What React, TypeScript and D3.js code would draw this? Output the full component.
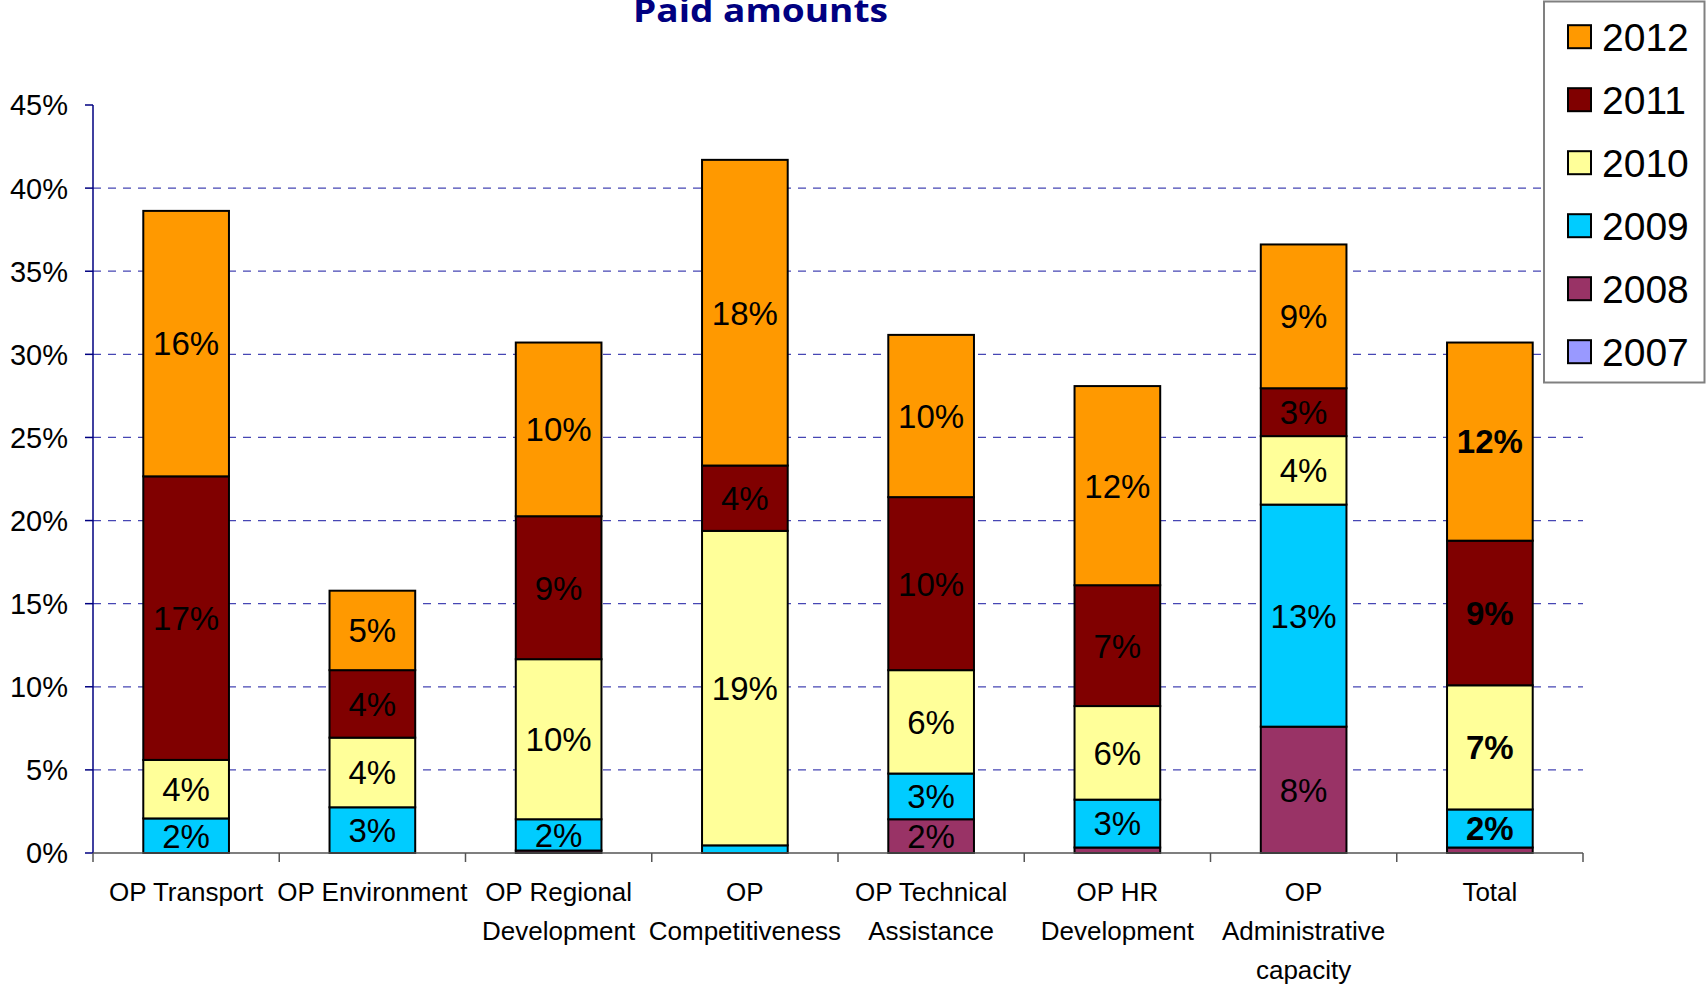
import React from "react";
import * as d3 from "d3";

const categories = [
  "OP Transport",
  "OP Environment",
  "OP Regional Development",
  "OP Competitiveness",
  "OP Technical Assistance",
  "OP HR Development",
  "OP Administrative capacity",
  "Total",
];
const categoryLines = [
  ["OP Transport"],
  ["OP Environment"],
  ["OP Regional", "Development"],
  ["OP", "Competitiveness"],
  ["OP Technical", "Assistance"],
  ["OP HR", "Development"],
  ["OP", "Administrative", "capacity"],
  ["Total"],
];
const years = ["2007", "2008", "2009", "2010", "2011", "2012"];
const v2007 = [0, 0, 0, 0, 0, 0, 0, 0];
const v2008 = [0, 0, 0.15, 0, 2.03, 0.33, 7.6, 0.33];
const v2009 = [2.08, 2.75, 1.88, 0.46, 2.75, 2.88, 13.36, 2.29];
const v2010 = [3.52, 4.19, 9.63, 18.92, 6.22, 5.63, 4.12, 7.47];
const v2011 = [17.06, 4.06, 8.6, 3.93, 10.41, 7.27, 2.88, 8.7];
const v2012 = [15.97, 4.78, 10.45, 18.39, 9.76, 11.98, 8.65, 11.92];
const yTicks = [0, 5, 10, 15, 20, 25, 30, 35, 40, 45];
const colors: Record<string, string> = {
  "2007": "#9999FF",
  "2008": "#993366",
  "2009": "#00CCFF",
  "2010": "#FFFF99",
  "2011": "#800000",
  "2012": "#FF9900",
};

const W = 1706;
const H = 989;
const X0 = 93;
const X1 = 1583;
const Y0 = 853;
const Y45 = 105;

export default function App() {
  const seriesValues: Record<string, number[]> = {
    "2007": v2007,
    "2008": v2008,
    "2009": v2009,
    "2010": v2010,
    "2011": v2011,
    "2012": v2012,
  };
  const table = categories.map((c, i) => {
    const row: any = { cat: c };
    years.forEach((y) => (row[y] = seriesValues[y][i]));
    return row;
  });
  const stack = d3.stack<any>().keys(years)(table);

  const x = d3.scaleBand<string>().domain(categories).range([X0, X1]).paddingInner(0).paddingOuter(0);
  const y = d3.scaleLinear().domain([0, 45]).range([Y0, Y45]);
  const bw = x.bandwidth() * 0.46;
  const font = "'Liberation Sans', Arial, sans-serif";

  return (
    <svg
      width={W}
      height={H}
      style={{ position: "absolute", left: 0, top: 0, background: "#fff" }}
      fontFamily={font}
    >
      <rect x={0} y={0} width={W} height={H} fill="#fff" />
      {/* gridlines */}
      {yTicks
        .filter((t) => t > 0 && t < 45)
        .map((t) => (
          <line
            key={"g" + t}
            x1={X0}
            x2={X1}
            y1={y(t)}
            y2={y(t)}
            stroke="#4646b4"
            strokeWidth={1.3}
            strokeDasharray="8 7"
          />
        ))}
      {/* bars */}
      {stack.map((s) =>
        s.map((d, i) => {
          const h = y(d[0]) - y(d[1]);
          if (h <= 0) return null;
          const cx = (x(categories[i]) as number) + x.bandwidth() / 2;
          return (
            <rect
              key={s.key + i}
              x={cx - bw / 2}
              y={y(d[1])}
              width={bw}
              height={h}
              fill={colors[s.key]}
              stroke="#000"
              strokeWidth={2}
            />
          );
        })
      )}
      {/* labels */}
      {stack.map((s) =>
        s.map((d, i) => {
          const v = d[1] - d[0];
          if (v < 1.5) return null;
          const cx = (x(categories[i]) as number) + x.bandwidth() / 2;
          const cy = (y(d[0]) + y(d[1])) / 2;
          const bold = categories[i] === "Total";
          return (
            <text
              key={"l" + s.key + i}
              x={cx}
              y={cy}
              dy="0.36em"
              textAnchor="middle"
              fontSize={33}
              fontWeight={bold ? 700 : 400}
              fill="#000"
            >
              {Math.round(v) + "%"}
            </text>
          );
        })
      )}
      {/* y axis */}
      <line x1={X0} x2={X0} y1={y(45)} y2={y(0)} stroke="#000080" strokeWidth={1.5} />
      {yTicks.map((t) => (
        <g key={"yt" + t}>
          <line x1={X0 - 8} x2={X0} y1={y(t)} y2={y(t)} stroke="#000080" strokeWidth={1.5} />
          <text x={68} y={y(t)} dy="0.36em" textAnchor="end" fontSize={29} fill="#000">
            {t + "%"}
          </text>
        </g>
      ))}
      {/* x axis */}
      <line x1={X0} x2={X1} y1={Y0} y2={Y0} stroke="#555" strokeWidth={1.5} />
      {d3.range(categories.length + 1).map((i) => {
        const xx = X0 + i * x.bandwidth();
        return <line key={"xt" + i} x1={xx} x2={xx} y1={Y0} y2={Y0 + 9} stroke="#555" strokeWidth={1.5} />;
      })}
      {categoryLines.map((lines, i) => {
        const cx = (x(categories[i]) as number) + x.bandwidth() / 2;
        return (
          <text key={"c" + i} textAnchor="middle" fontSize={26} fill="#000">
            {lines.map((ln, j) => (
              <tspan key={j} x={cx} y={901 + j * 39}>
                {ln}
              </tspan>
            ))}
          </text>
        );
      })}
      {/* title */}
      <text
        x={760.5}
        y={22}
        textAnchor="middle"
        fontFamily="'Open Sans', 'Noto Sans', sans-serif"
        fontWeight={700}
        fontSize={33}
        fill="#000080"
        textLength={255}
        lengthAdjust="spacingAndGlyphs"
      >
        Paid amounts
      </text>
      {/* legend */}
      <rect x={1544} y={1.5} width={160.5} height={381} fill="#fff" stroke="#808080" strokeWidth={2} />
      {years
        .slice()
        .reverse()
        .map((yr, k) => {
          const cy = 36.7 + k * 63;
          return (
            <g key={"lg" + yr}>
              <rect x={1568} y={cy - 11.5} width={23} height={23} fill={colors[yr]} stroke="#000" strokeWidth={2} />
              <text x={1602} y={cy} dy="0.36em" fontSize={39} fill="#000">
                {yr}
              </text>
            </g>
          );
        })}
    </svg>
  );
}
